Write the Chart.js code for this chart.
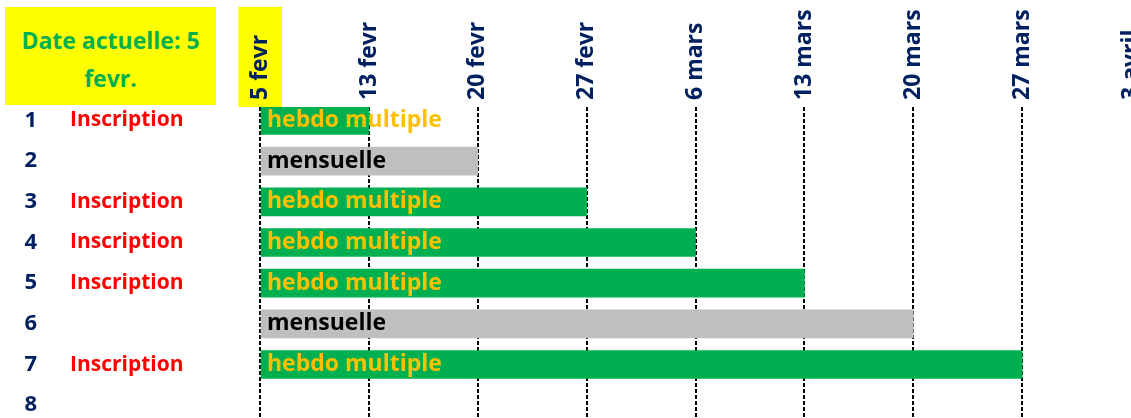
<!DOCTYPE html>
<html>
<head>
<meta charset="utf-8">
<script src="https://cdn.jsdelivr.net/npm/chart.js@4"></script>
<style>
  html, body { margin: 0; padding: 0; background: #fff; overflow: hidden; }
  #wrap { position: relative; width: 1131px; height: 418px; }
  #today {
    position: absolute; left: 5px; top: 7px; width: 211px; height: 98px;
    box-sizing: border-box; padding-top: 6px;
    background: #ffff00; color: #00b050;
    font: 700 23px "Open Sans", sans-serif; line-height: 38px; text-align: center;
    display: flex; align-items: center; justify-content: center;
  }
</style>
</head>
<body>
<div id="wrap">
  <canvas id="chart"></canvas>
  <div id="today"><div>Date actuelle: 5<br>fevr.</div></div>
</div>
<script>
const dateLabels = ['5 fevr', '13 fevr', '20 fevr', '27 fevr', '6 mars', '13 mars', '20 mars', '27 mars', '3 avril'];
const rowLabels = ['1', '2', '3', '4', '5', '6', '7', '8'];
const rowNotes = ['Inscription', '', 'Inscription', 'Inscription', 'Inscription', '', 'Inscription', ''];
const barRows = [1, 2, 3, 4, 5, 6, 7];
const barTypes = ['hebdo multiple', 'mensuelle', 'hebdo multiple', 'hebdo multiple', 'hebdo multiple', 'mensuelle', 'hebdo multiple'];
const barEnds = [1, 2, 3, 4, 5, 6, 7];

const typeColors = { 'hebdo multiple': '#00b050', 'mensuelle': '#bfbfbf' };
const typeTextColors = { 'hebdo multiple': '#ffc000', 'mensuelle': '#000000' };

const navy = '#002060';
const rowFont = { family: '"Open Sans", sans-serif', size: 21, weight: 'bold' };
const dateFont = { family: '"Open Sans", sans-serif', size: 23, weight: 'bold' };

// one tick per row, no extra bound ticks
const rowTicks = (scale) => { scale.ticks = rowLabels.map((_, i) => ({ value: i + 1 })); };
const rowTick = (arr) => (v) => arr[v - 1] ?? '';

const barText = {
  id: 'barText',
  afterDatasetsDraw(chart) {
    const ctx = chart.ctx;
    const meta = chart.getDatasetMeta(0);
    ctx.save();
    ctx.font = 'bold 23px "Open Sans", sans-serif';
    ctx.textBaseline = 'middle';
    ctx.textAlign = 'left';
    meta.data.forEach((bar, i) => {
      ctx.fillStyle = typeTextColors[barTypes[i]];
      ctx.fillText(barTypes[i], Math.min(bar.x, bar.base) + 6, bar.y);
    });
    ctx.restore();
  }
};

const yCommon = {
  type: 'linear',
  position: 'left',
  reverse: true,
  offset: false,
  min: 0.668,
  max: 8.315,
  grid: { display: false },
  border: { display: false },
  afterBuildTicks: rowTicks,
};

new Chart(document.getElementById('chart'), {
  type: 'bar',
  data: {
    datasets: [{
      data: barRows.map((r, i) => ({ x: [0, barEnds[i]], y: r })),
      backgroundColor: barTypes.map(t => typeColors[t]),
      barThickness: 28,
    }]
  },
  options: {
    indexAxis: 'y',
    responsive: true,
    maintainAspectRatio: false,
    animation: false,
    layout: { padding: 0 },
    plugins: {
      legend: { display: false },
      tooltip: { enabled: false },
    },
    scales: {
      x: {
        type: 'linear',
        position: 'top',
        min: 0,
        max: 8,
        grid: {
          color: (c) => c.index === dateLabels.length - 1 ? 'rgba(0,0,0,0)' : '#000000',
          lineWidth: 2,
          drawTicks: false,
          tickLength: 0,
        },
        border: { display: false, dash: [4, 2] },
        ticks: {
          stepSize: 1,
          autoSkip: false,
          minRotation: 90,
          maxRotation: 90,
          padding: 7,
          labelOffset: 14,
          color: navy,
          font: dateFont,
          callback: (v) => dateLabels[v] ?? '',
          showLabelBackdrop: true,
          backdropColor: (c) => c.index === 0 ? '#ffff00' : 'rgba(0,0,0,0)',
          backdropPadding: { left: 7, right: 28, top: 8, bottom: 8 },
        },
        afterFit(scale) {
          scale.height = 107;
          scale.paddingLeft = 0;
          scale.paddingRight = 0;
        },
      },
      y: {
        ...yCommon,
        weight: 1,
        ticks: {
          autoSkip: false,
          crossAlign: 'far',
          color: '#ff0000',
          font: rowFont,
          callback: rowTick(rowNotes),
        },
        afterFit(scale) {
          scale.width = 190;
          scale.paddingTop = 0;
          scale.paddingBottom = 0;
        },
      },
      yNum: {
        ...yCommon,
        weight: 2,
        ticks: {
          autoSkip: false,
          padding: 25,
          color: navy,
          font: { ...rowFont, size: 22 },
          callback: rowTick(rowLabels),
        },
        afterFit(scale) {
          scale.width = 70;
          scale.paddingTop = 0;
          scale.paddingBottom = 0;
        },
      },
    }
  },
  plugins: [barText]
});
</script>
</body>
</html>
